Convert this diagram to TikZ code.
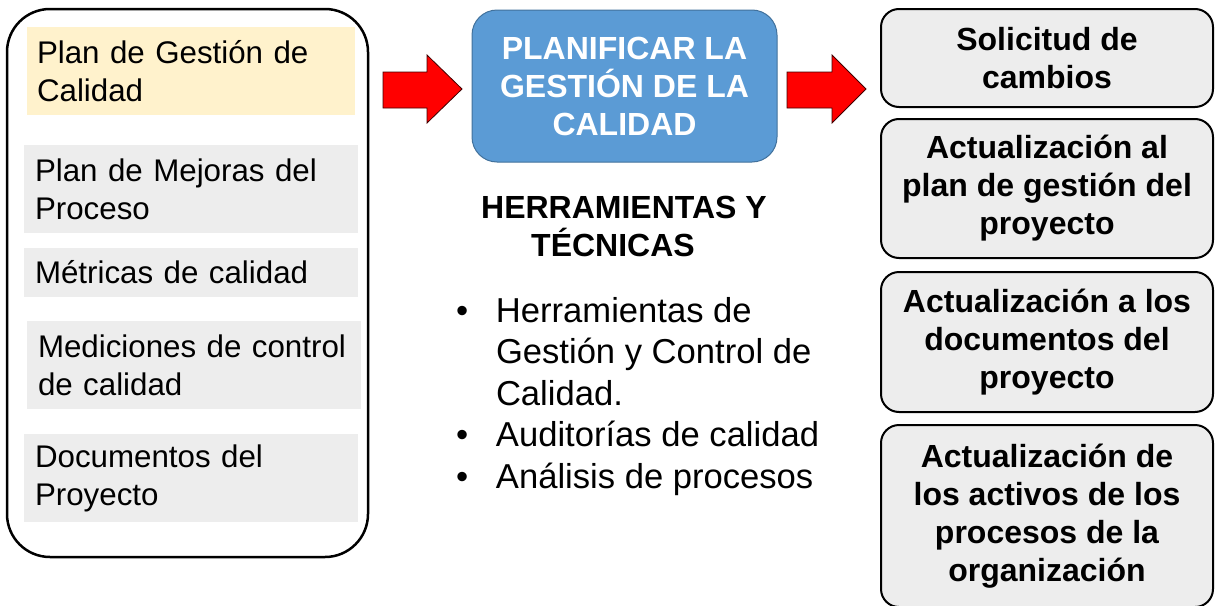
\documentclass[tikz,border=0pt]{standalone}
\usepackage{fontspec}
\setmainfont{Liberation Sans}
\definecolor{itemgray}{HTML}{EDEDED}
\definecolor{itemyellow}{HTML}{FFF2CC}
\definecolor{boxgray}{HTML}{EDEDED}
\definecolor{procblue}{HTML}{5B9BD5}
\definecolor{procborder}{HTML}{41719C}
\definecolor{arrowred}{HTML}{FF0000}
\begin{document}
\begin{tikzpicture}[x=1pt,y=-1pt,
  every node/.style={inner sep=0pt, outer sep=0pt},
  bigtext/.style={font=\fontsize{31.3}{38}\selectfont},
  leftitem/.style={bigtext, fill=itemgray, inner xsep=11pt, align=left, text width=312pt, minimum height=#1},
  outbox/.style={draw, line width=2pt, fill=boxgray, rounded corners=18pt, align=center,
    font=\bfseries\fontsize{32}{38}\selectfont, minimum width=332pt, minimum height=#1},
  blockarrow/.style={fill=arrowred, draw=black!75!red, line width=0.8pt, line join=miter}
]
\useasboundingbox (0,0) rectangle (1218,605);

% inputs container
\node[draw, line width=2.5pt, rounded corners=43pt, minimum width=361pt, minimum height=548pt] (inputs) at (187.5,283) {};

% input items
\node[leftitem=88pt, fill=itemyellow, inner xsep=10pt, text width=308pt] (i1) at (191,71) {\mbox{Plan de Gestión de}\\\mbox{Calidad}};
\node[leftitem=88pt] (i2) at (191,189) {\mbox{Plan de Mejoras del}\\\mbox{Proceso}};
\node[leftitem=49pt] (i3) at (191,272.5) {\mbox{Métricas de calidad}};
\node[leftitem=88pt] (i4) at (194,365) {\mbox{Mediciones de control}\\\mbox{de calidad}};
\node[leftitem=88pt] (i5) at (191,478) {\mbox{Documentos del}\\\mbox{Proyecto}};

% process
\node[draw=procborder, line width=1pt, fill=procblue, rounded corners=25pt,
  minimum width=305pt, minimum height=152pt, align=center, text=white,
  font=\bfseries\fontsize{32}{38}\selectfont] (proc) at (624.5,86) {PLANIFICAR LA\\GESTIÓN DE LA\\CALIDAD};

% block arrows
\path[blockarrow] (383,72) -- (427,72) -- (427,55) -- (462,89) -- (427,123) -- (427,108) -- (383,108) -- cycle;
\path[blockarrow] (787,72) -- (832,72) -- (832,55) -- (866,89) -- (832,123) -- (832,108) -- (787,108) -- cycle;

% tools and techniques
\node[anchor=north, align=center, font=\bfseries\fontsize{32}{38}\selectfont] (tt) at (624,196) {HERRAMIENTAS Y\\TÉCNICAS\kern22pt};
\node[anchor=north west, font=\fontsize{34.6}{41.5}\selectfont] (tools) at (456,293) {%
  \begin{tabular}{@{}p{40pt}@{}l@{}}
  •&Herramientas de\\
   &Gestión y Control de\\
   &Calidad.\\
  •&Auditorías de calidad\\
  •&Análisis de procesos
  \end{tabular}};

% outputs
\node[outbox=98pt] (o1) at (1047,58) {Solicitud de\\cambios};
\node[outbox=139pt] (o2) at (1047,188.5) {Actualización al\\plan de gestión del\\proyecto};
\node[outbox=140pt] (o3) at (1047,342) {Actualización a los\\documentos del\\proyecto};
\node[outbox=182pt] (o4) at (1047,516) {Actualización de\\los activos de los\\procesos de la\\organización};
\end{tikzpicture}
\end{document}
